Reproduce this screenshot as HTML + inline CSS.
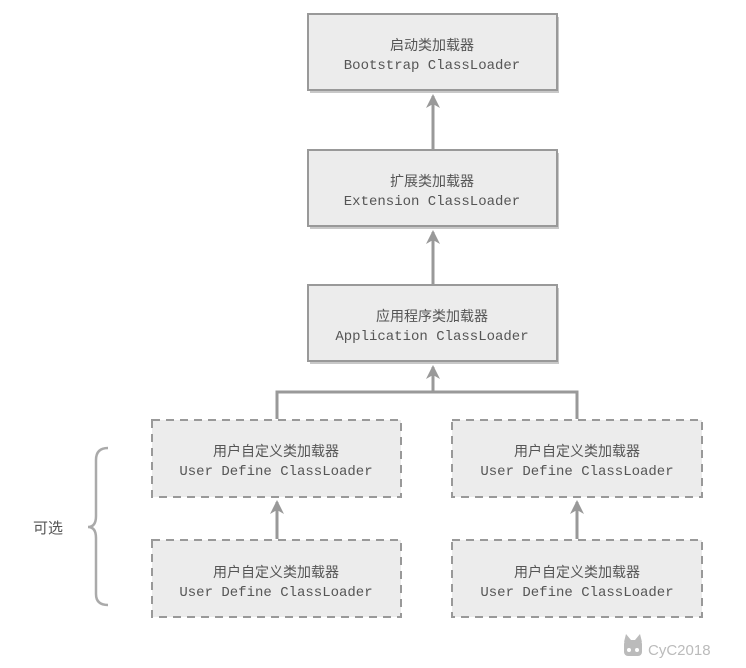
<!DOCTYPE html>
<html><head><meta charset="utf-8"><style>
html,body{margin:0;padding:0;background:#fff;}
svg{display:block;}
.cn{font-family:"Liberation Sans","Noto Sans CJK SC",sans-serif;font-size:14px;fill:#555;}
.en{font-family:"Liberation Mono",monospace;font-size:14px;fill:#555;}
</style></head><body>
<svg width="746" height="668" viewBox="0 0 746 668" xmlns="http://www.w3.org/2000/svg">
<g>
<rect x="310" y="17" width="249" height="76" fill="#c8c8c8"/>
<rect x="308" y="14" width="249" height="76" fill="#ececec" stroke="#999" stroke-width="2"/>
<text x="432" y="50" class="cn" text-anchor="middle">启动类加载器</text>
<text x="432" y="69" class="en" text-anchor="middle">Bootstrap ClassLoader</text>

<rect x="310" y="153" width="249" height="76" fill="#c8c8c8"/>
<rect x="308" y="150" width="249" height="76" fill="#ececec" stroke="#999" stroke-width="2"/>
<text x="432" y="186" class="cn" text-anchor="middle">扩展类加载器</text>
<text x="432" y="205" class="en" text-anchor="middle">Extension ClassLoader</text>

<rect x="310" y="288" width="249" height="76" fill="#c8c8c8"/>
<rect x="308" y="285" width="249" height="76" fill="#ececec" stroke="#999" stroke-width="2"/>
<text x="432" y="321" class="cn" text-anchor="middle">应用程序类加载器</text>
<text x="432" y="340" class="en" text-anchor="middle">Application ClassLoader</text>
</g>
<g fill="#ececec" stroke="#999" stroke-width="2" stroke-dasharray="8,6">
<rect x="152" y="420" width="249" height="77"/>
<rect x="452" y="420" width="250" height="77"/>
<rect x="152" y="540" width="249" height="77"/>
<rect x="452" y="540" width="250" height="77"/>
</g>
<g>
<text x="276" y="456" class="cn" text-anchor="middle">用户自定义类加载器</text>
<text x="276" y="475" class="en" text-anchor="middle">User Define ClassLoader</text>
<text x="577" y="456" class="cn" text-anchor="middle">用户自定义类加载器</text>
<text x="577" y="475" class="en" text-anchor="middle">User Define ClassLoader</text>
<text x="276" y="577" class="cn" text-anchor="middle">用户自定义类加载器</text>
<text x="276" y="596" class="en" text-anchor="middle">User Define ClassLoader</text>
<text x="577" y="577" class="cn" text-anchor="middle">用户自定义类加载器</text>
<text x="577" y="596" class="en" text-anchor="middle">User Define ClassLoader</text>
</g>
<g stroke="#999" stroke-width="3" fill="none">
<line x1="433" y1="149" x2="433" y2="96"/>
<line x1="433" y1="284" x2="433" y2="232"/>
<polyline points="277,419 277,392 577,392 577,419"/>
<line x1="433" y1="392" x2="433" y2="367"/>
<line x1="277" y1="539" x2="277" y2="502"/>
<line x1="577" y1="539" x2="577" y2="502"/>
</g>
<g fill="#999">
<path d="M433,94 L440,108 L433,104 L426,108 Z"/>
<path d="M433,230 L440,244 L433,240 L426,244 Z"/>
<path d="M433,365 L440,379 L433,375 L426,379 Z"/>
<path d="M277,500 L284,514 L277,510 L270,514 Z"/>
<path d="M577,500 L584,514 L577,510 L570,514 Z"/>
</g>
<path d="M108,448 Q96,448 96,460 L96,516 Q96,527 88,527 Q96,527 96,538 L96,594 Q96,605 108,605" fill="none" stroke="#aaa" stroke-width="2.5"/>
<text x="33" y="533" class="cn" style="font-size:15px">可选</text>
<g fill="#bbb">
<rect x="624" y="640" width="18" height="16" rx="4"/>
<path d="M624,642 L626,634 L631,640 Z M642,642 L640,634 L635,640 Z"/>
<circle cx="629" cy="650" r="2" fill="#fff"/><circle cx="637" cy="650" r="2" fill="#fff"/>
</g>
<text x="648" y="655" style="font-family:'Liberation Sans',sans-serif;font-size:15px;fill:#bbb">CyC2018</text>
</svg>
</body></html>
